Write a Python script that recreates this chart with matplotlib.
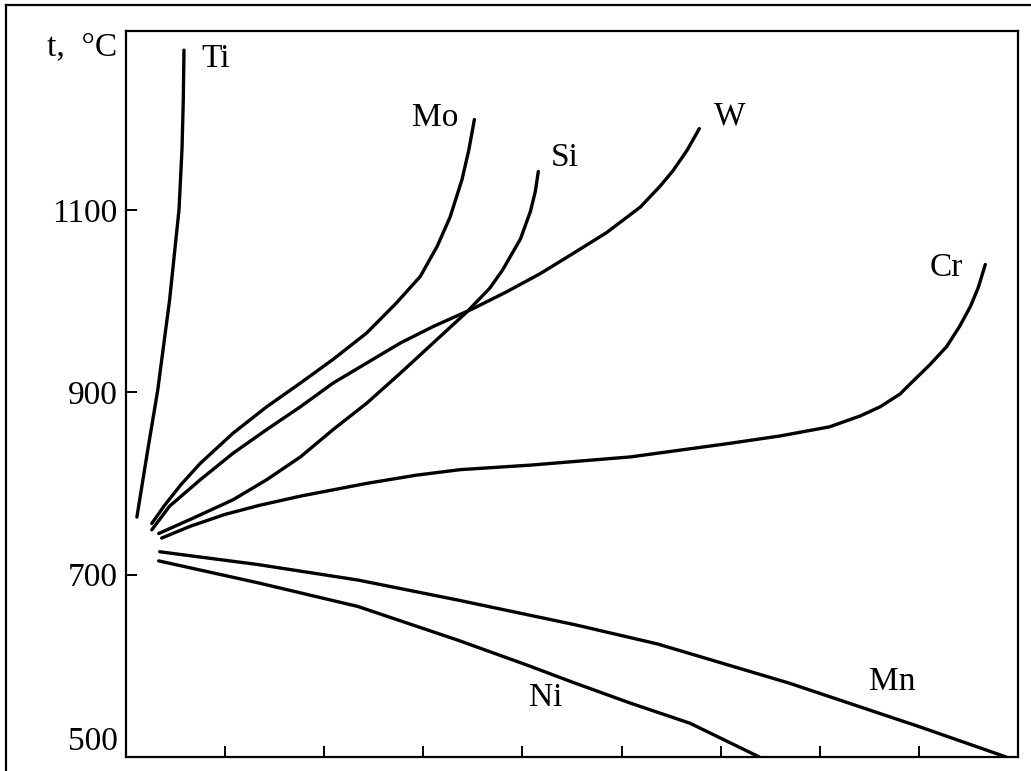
import matplotlib.pyplot as plt
from matplotlib.lines import Line2D

plt.rcParams['font.family'] = ['Liberation Serif', 'DejaVu Serif']

# curves: x = alloying element content (unlabelled scale), y = temperature, °C
ti_x = [0.11, 0.22, 0.32, 0.44, 0.535, 0.565, 0.578, 0.585]
ti_y = [763, 837, 902, 1001, 1100, 1166, 1220, 1275]

mo_x = [0.26, 0.39, 0.55, 0.75, 1.08, 1.42, 1.76, 2.09, 2.43, 2.73, 2.97, 3.14, 3.27, 3.39,
        3.46, 3.515]
mo_y = [756, 776, 798, 822, 855, 884, 910, 936, 965, 998, 1027, 1060, 1092, 1133, 1166, 1199]

w_x = [0.26, 0.44, 0.75, 1.08, 1.42, 1.76, 2.09, 2.43, 2.77, 3.10, 3.49, 3.84, 4.18, 4.51,
       4.85, 5.19, 5.39, 5.52, 5.66, 5.785]
w_y = [749, 775, 804, 833, 859, 884, 910, 932, 954, 972, 991, 1010, 1030, 1052, 1075, 1103,
       1126, 1143, 1165, 1189]

si_x = [0.33, 0.70, 1.08, 1.42, 1.76, 2.09, 2.43, 2.77, 3.10, 3.44, 3.67, 3.80, 3.98, 4.08,
        4.13, 4.16]
si_y = [745, 763, 782, 804, 829, 859, 888, 921, 954, 988, 1014, 1034, 1068, 1098, 1120, 1142]

cr_x = [0.36, 0.65, 1.00, 1.35, 1.76, 2.43, 2.93, 3.37, 4.08, 5.09, 6.10, 6.60, 7.10, 7.41,
        7.61, 7.81, 7.94, 8.11, 8.28, 8.41, 8.52, 8.60, 8.67]
cr_y = [740, 753, 766, 776, 786, 800, 809, 815, 820, 829, 844, 852, 862, 874, 884, 898, 912,
        930, 950, 972, 994, 1015, 1040]

mn_x = [0.34, 1.33, 2.34, 3.35, 4.53, 5.36, 6.69, 8.01, 8.88]
mn_y = [725, 711, 694, 672, 645, 624, 581, 533, 500]

ni_x = [0.33, 1.33, 2.34, 3.35, 4.04, 4.53, 5.09, 5.69, 6.39]
ni_y = [715, 691, 665, 628, 601, 581, 559, 537, 500]

curves = [(ti_x, ti_y), (mo_x, mo_y), (w_x, w_y), (si_x, si_y),
          (cr_x, cr_y), (mn_x, mn_y), (ni_x, ni_y)]

labels = ['Ti', 'Mo', 'Si', 'W', 'Cr', 'Mn', 'Ni']
label_x = [0.90, 3.12, 4.43, 6.09, 8.28, 7.73, 4.23]
label_y = [1266, 1201, 1157, 1202, 1036, 583, 565]

y_ticks = [500, 700, 900, 1100]
x_ticks = [1, 2, 3, 4, 5, 6, 7, 8]

fig = plt.figure(figsize=(10.31, 7.71), dpi=100)
ax = fig.add_axes([0.1222, 0.0182, 0.8652, 0.9416])

for xs, ys in curves:
    ax.plot(xs, ys, color='black', lw=2.4, solid_capstyle='round',
            solid_joinstyle='round')

for name, lx, ly in zip(labels, label_x, label_y):
    ax.text(lx, ly, name, fontsize=24, ha='center', va='center')

ax.set_xlim(0, 9)
ax.set_ylim(500, 1296)
ax.set_xticks(x_ticks)
ax.set_xticklabels([])
ax.set_yticks(y_ticks)
ax.set_yticklabels([str(v) for v in y_ticks], fontsize=24)
ax.tick_params(direction='in', length=8, width=1.4, pad=6)
ax.get_yticklabels()[0].set_verticalalignment('bottom')
for s in ax.spines.values():
    s.set_linewidth(1.6)

fig.text(0.0795, 0.939, 't,  °C', fontsize=24, ha='center', va='center')

# scan border on left and top
fig.add_artist(Line2D([6 / 1031, 6 / 1031], [0, 1 - 5 / 771], color='black', lw=1.6))
fig.add_artist(Line2D([6 / 1031, 1], [1 - 5 / 771, 1 - 5 / 771], color='black', lw=1.6))

fig.savefig('out.png', dpi=100)
